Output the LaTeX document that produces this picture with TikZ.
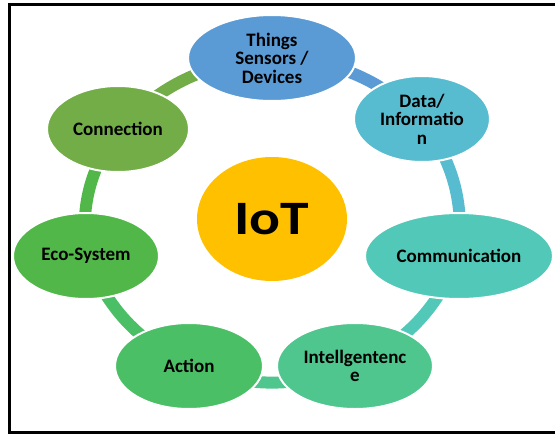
\documentclass[tikz,border=0pt]{standalone}
\usepackage{fontspec}
\setmainfont{Carlito}
\usepackage{xcolor}
\usepackage{tikz}
\usetikzlibrary{shapes.geometric}
\usetikzlibrary{backgrounds}
\definecolor{thingsblue}{HTML}{5B9BD5}
\definecolor{datacyan}{HTML}{57BCCF}
\definecolor{commteal}{HTML}{52C9B8}
\definecolor{intellgreen}{HTML}{4EC68E}
\definecolor{actiongreen}{HTML}{4ABF65}
\definecolor{ecogreen}{HTML}{50B748}
\definecolor{conngreen}{HTML}{72AD47}
\definecolor{iotyellow}{HTML}{FFC000}
\tikzstyle{bubble}=[ellipse,draw=white,line width=2pt,inner sep=0pt,align=center,minimum height=86pt,font=\bfseries\fontsize{19}{18.5}\selectfont]
\tikzstyle{band}=[line width=12pt]
\begin{document}
\begin{tikzpicture}[x=1pt,y=-1pt]
	\useasboundingbox (0,0) rectangle (555,434);
	\begin{scope}
	  \clip (0,0) rectangle (555,434);
	  \draw[line width=3pt] (9.5,4.5) rectangle (600,432);
	\end{scope}
	% outer ring
	\node[bubble,fill=thingsblue,minimum width=168pt] (things) at (272,58) {Things\\Sensors /\\Devices};
	\node[bubble,fill=datacyan,minimum width=136pt] (data) at (422,119) {Data/\\Informatio\\n};
	\node[bubble,fill=commteal,minimum width=188pt] (comm) at (459,256) {Communication};
	\node[bubble,fill=intellgreen,minimum width=156pt] (intell) at (355,366) {Intellgentenc\\e};
	\node[bubble,fill=actiongreen,minimum width=148pt] (action) at (189,366) {Action};
	\node[bubble,fill=ecogreen,minimum width=146pt] (eco) at (86,256) {Eco-System};
	\node[bubble,fill=conngreen,minimum width=142pt] (conn) at (118,129) {Connection};
	% centre
	\node[ellipse,fill=iotyellow,inner sep=0pt,minimum width=150pt,minimum height=124pt,font=\bfseries\fontsize{48}{48}\selectfont] (iot) at (272,219) {\scalebox{1.2}[1]{IoT}};
	\begin{scope}[on background layer]
	  \draw[band,conngreen] (conn.center) to[bend left=20] (things.center);
	  \draw[band,thingsblue] (things.center) to[bend left=20] (data.center);
	  \draw[band,datacyan] (data.center) to[bend left=20] (comm.center);
	  \draw[band,commteal] (comm.center) to[bend left=20] (intell.center);
	  \draw[band,intellgreen] (intell.center) to[bend left=20] (action.center);
	  \draw[band,actiongreen] (action.center) to[bend left=20] (eco.center);
	  \draw[band,ecogreen] (eco.center) to[bend left=20] (conn.center);
	\end{scope}
\end{tikzpicture}
\end{document}
